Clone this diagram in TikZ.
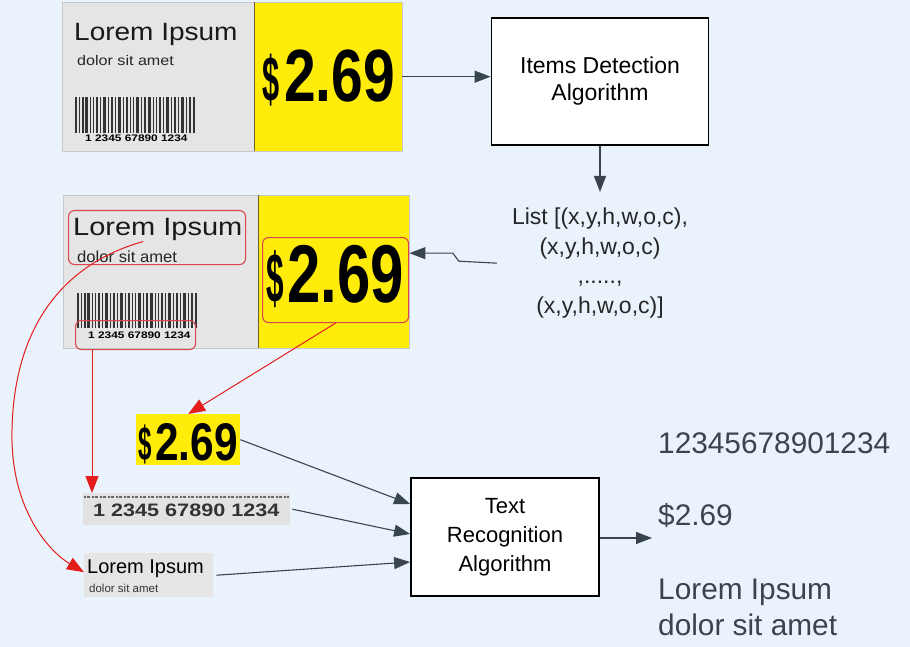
\documentclass[tikz,border=0pt]{standalone}
\usepackage{fontspec}
\setmainfont{Liberation Sans}
\usetikzlibrary{arrows.meta}
\definecolor{bg}{RGB}{234,243,252}
\definecolor{tagg}{RGB}{229,229,229}
\definecolor{tagborder}{RGB}{200,200,200}
\definecolor{tagy}{RGB}{255,236,10}
\definecolor{divid}{RGB}{110,95,50}
\definecolor{dk}{RGB}{58,68,80}
\definecolor{rd}{RGB}{228,28,28}
\definecolor{rbox}{RGB}{218,70,80}
\newcommand{\fs}[2]{\fontsize{#1}{#2}\selectfont}
\newcommand{\mybars}[3]{%
  \foreach \x/\w in {0/2,4/1,7/1.5,10/3,15/1,18/1,21/2,25/1,28/2.5,33/1,36/1.5,40/1,43/3,48/1,51/2,55/1,58/1,61/2.5,66/1,69/1.5,73/3,78/1,81/1,84/2,88/1,91/2.5,96/1,99/1.5,103/1,106/3,111/1,114/2,118/2}
    \fill[black!80] ({#1+\x},#2) rectangle ++(\w,#3);}
\begin{document}
\begin{tikzpicture}[x=1pt,y=-1pt,
  graybox/.style={fill=tagg, draw=none, inner sep=0, anchor=north west},
  yelbox/.style={fill=tagy, draw=none, inner sep=0, anchor=north west},
  algo/.style={draw=black, line width=1.8pt, fill=white, align=center, inner sep=0, text=black},
  darrow/.style={draw=dk, line width=1.1pt, -{Triangle[length=16pt,width=12pt]}},
  rarrow/.style={draw=rd, line width=1pt, -{Triangle[length=17pt,width=13pt]}},
  hl/.style={draw=rbox, line width=1.1pt, rounded corners=6pt, inner sep=0, anchor=north west},
  txt/.style={inner sep=0, anchor=base west},
]
\fill[bg] (0,0) rectangle (910,647);
\useasboundingbox (0,0) rectangle (910,647);

% ---- top tag
\node[graybox, minimum width=192pt, minimum height=149pt] (t1g) at (62,2) {};
\node[yelbox, minimum width=148pt, minimum height=149pt] (t1y) at (254,2) {};
\draw[tagborder, line width=0.6pt] (t1g.north west) rectangle (t1y.south east);
\draw[divid, line width=0.8pt] (t1y.north west) -- (t1y.south west);
\node[txt, text=black!90] (t1lorem) at (74,41) {\fs{25}{25}\scalebox{1.12}[1]{Lorem Ipsum}};
\node[txt, text=black!85] (t1dolor) at (77,66) {\fs{14}{14}\scalebox{1.15}[1]{dolor sit amet}};
\mybars{75}{97}{36}
\node[txt] (t1digits) at (85,142) {\bfseries\fs{9.5}{9.5}\scalebox{1.25}[1]{1 2345 67890 1234}};
\node[txt] (t1dollar) at (262,102) {\bfseries\fs{64}{64}\scalebox{0.48}[1]{\$}};
\node[txt] (t1price) at (284,102) {\bfseries\fs{74}{74}\scalebox{0.77}[1]{2.69}};

% ---- items detection
\node[algo, minimum width=217pt, minimum height=127pt, font=\fs{23}{27}] (idb) at (600,81.5) {Items Detection\\Algorithm};
\node[inner sep=3pt, align=center, text=black!85, anchor=north, font=\fs{23}{29.5}] (list) at (600,205)
  {List [(x,y,h,w,o,c),\\(x,y,h,w,o,c)\\,.....,\\(x,y,h,w,o,c)]};

% ---- second tag
\node[graybox, minimum width=195pt, minimum height=153pt] (t2g) at (63,195) {};
\node[yelbox, minimum width=151pt, minimum height=153pt] (t2y) at (258,195) {};
\draw[tagborder, line width=0.6pt] (t2g.north west) rectangle (t2y.south east);
\draw[divid, line width=0.8pt] (t2y.north west) -- (t2y.south west);
\node[txt, text=black!90] (t2lorem) at (73,235) {\fs{25}{25}\scalebox{1.16}[1]{Lorem Ipsum}};
\node[txt, text=black!85] (t2dolor) at (77,262) {\fs{16}{16}\scalebox{1.04}[1]{dolor sit amet}};
\mybars{77}{293}{35}
\node[txt] (t2digits) at (88,338) {\bfseries\fs{9.5}{9.5}\scalebox{1.25}[1]{1 2345 67890 1234}};
\node[txt] (t2dollar) at (266,302) {\bfseries\fs{70}{70}\scalebox{0.45}[1]{\$}};
\node[txt] (t2price) at (287,302) {\bfseries\fs{82}{82}\scalebox{0.73}[1]{2.69}};
\node[hl, minimum width=177pt, minimum height=54pt] (t2lbox) at (68,210) {};
\node[hl, minimum width=120pt, minimum height=29pt] (t2bc) at (75,320) {};
\node[hl, minimum width=146pt, minimum height=85pt] (t2pbox) at (262,237) {};

% ---- crops
\node[yelbox, minimum width=104pt, minimum height=51pt] (sy) at (136,414) {};
\node[txt] (sydollar) at (138,460) {\bfseries\fs{48}{48}\scalebox{0.5}[1]{\$}};
\node[txt] (syprice) at (155,460) {\bfseries\fs{53}{53}\scalebox{0.8}[1]{2.69}};

\node[graybox, fill={rgb,255:red,226;green,226;blue,226}, minimum width=207pt, minimum height=32pt] (strip) at (83,493) {};
\draw[black!60, line width=2.5pt, dash pattern=on 1.5pt off 1.5pt on 3pt off 2pt] (strip.north west) ++(1,4) -- ++(205,0);
\node[txt, text=black!80] (stripdig) at (93,516) {\bfseries\fs{18}{18}\scalebox{1.2}[1]{1 2345 67890 1234}};

\node[graybox, minimum width=129pt, minimum height=44pt] (sl) at (84,553) {};
\node[txt] (sllorem) at (87,573) {\fs{20}{20}Lorem Ipsum};
\node[txt, text=black!80] (sldolor) at (89,592) {\fs{11.5}{11.5}dolor sit amet};

% ---- text recognition
\node[algo, minimum width=188pt, minimum height=118pt, font=\fs{22}{29}] (trb) at (505,537) {Text\\Recognition\\Algorithm};
\coordinate (outtip) at (652,538);

% ---- outputs
\node[txt, text=dk] (o1) at (658,453) {\fs{29.8}{29.8}12345678901234};
\node[txt, text=dk] (o2) at (658,525) {\fs{29.8}{29.8}\$2.69};
\node[txt, text=dk] (o3) at (658,599) {\fs{29.8}{29.8}Lorem Ipsum};
\node[txt, text=dk] (o4) at (658,635) {\fs{29.8}{29.8}dolor sit amet};

% ---- dark connectors
\draw[darrow] (t1y.east) -- (t1y.east -| idb.west);
\draw[darrow] (idb.south) -- ([yshift=13pt]list.north);
\draw[darrow] ([xshift=-12pt]list.west) -- ++(-38,-2) -- ++(-6,-8) coordinate (wj) -- (wj -| t2y.east);
\draw[darrow] (sy.east) -- ([yshift=33pt]trb.west);
\draw[darrow] ([xshift=2pt]strip.east) -- ([yshift=3pt]trb.west);
\draw[darrow] ([xshift=3pt]sl.east) -- ([yshift=-25pt]trb.west);
\draw[darrow] (trb.east |- outtip) -- (outtip);

% ---- red connectors
\draw[rarrow] (t2pbox.south) -- (sy.north);
\draw[rarrow] ([xshift=17pt]t2bc.south west) -- ([xshift=17pt]t2bc.south west |- strip.north);
\draw[rarrow] ([xshift=-14pt,yshift=-4pt]t2lbox.center) .. controls (60,265) and (14,330) .. (12,430)
  .. controls (10,510) and (50,552) .. ([yshift=3pt]sl.west);
\end{tikzpicture}
\end{document}
